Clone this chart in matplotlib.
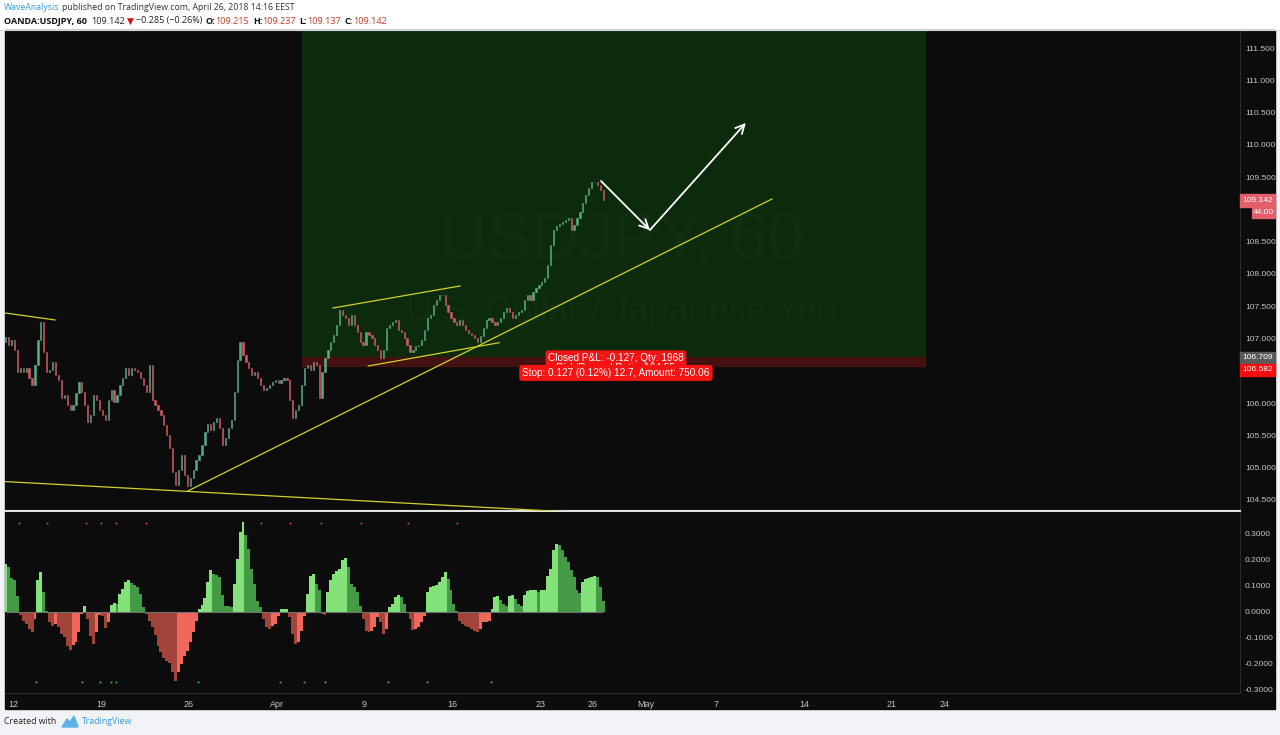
import numpy as np
import matplotlib.pyplot as plt
from matplotlib.patches import Rectangle, Polygon

plt.rcParams['font.family'] = ['Liberation Sans', 'DejaVu Sans']

W, H = 1280, 735

# USDJPY 4h closes, Fri 9 Mar noon -> Thu 26 Apr 14:00
first_open = 106.95
closes = [
    107.02, 106.90, 106.98,
    106.82, 106.48, 106.54, 106.48, 106.54, 106.39,
    106.28, 106.59, 106.98, 107.26, 106.79, 106.48,
    106.51, 106.64, 106.44, 106.36, 106.08, 106.13,
    105.97, 105.89, 105.97, 106.16, 106.33, 106.17,
    105.97, 105.71, 105.82, 106.13, 106.05, 105.89,
    105.82, 105.74, 106.05, 106.20, 106.02, 106.13,
    106.28, 106.39, 106.54, 106.44, 106.54, 106.51,
    106.48, 106.39, 106.28, 106.17, 106.59, 106.05,
    105.97, 105.89, 105.82, 105.66, 105.51, 105.31,
    104.93, 104.73, 104.96, 105.20, 104.89, 104.72,
    104.84, 104.96, 105.12, 105.20, 105.35, 105.55,
    105.68, 105.58, 105.71, 105.77, 105.62, 105.35,
    105.46, 105.62, 105.74, 106.17, 106.67, 106.95,
    106.75, 106.64, 106.54, 106.44, 106.48, 106.39,
    106.28, 106.20, 106.23, 106.28, 106.33, 106.36,
    106.31, 106.36, 106.39, 106.36, 106.05, 105.77,
    105.89, 105.97, 106.28, 106.54, 106.59, 106.51,
    106.64, 106.59, 106.08, 106.48, 106.70, 106.82,
    106.95, 107.06, 107.21, 107.44, 107.37, 107.32,
    107.21, 107.37, 107.21, 107.10, 106.95, 106.90,
    107.10, 107.06, 107.01, 106.90, 106.82, 106.70,
    106.82, 107.16, 107.21, 107.26, 107.29, 107.13,
    107.10, 107.01, 106.90, 106.79, 106.82, 106.89,
    106.90, 106.98, 107.13, 107.32, 107.37, 107.52,
    107.60, 107.68, 107.68, 107.52, 107.41, 107.32,
    107.26, 107.21, 107.29, 107.21, 107.13, 107.09,
    107.06, 107.01, 106.95, 107.04, 107.16, 107.29,
    107.32, 107.26, 107.21, 107.26, 107.32, 107.41,
    107.47, 107.41, 107.32, 107.37, 107.41, 107.44,
    107.60, 107.68, 107.60, 107.72, 107.78, 107.83,
    107.88, 107.94, 108.14, 108.45, 108.68, 108.74,
    108.77, 108.81, 108.84, 108.87, 108.68, 108.76,
    108.87, 108.96, 109.10, 109.22, 109.33, 109.43,
    109.43, 109.38, 109.30, 109.142,
]

# oscillator histogram, same 4h bars
osc_hist = [
    0.183, 0.170, 0.128, 0.119, 0.060, -0.013, -0.035, -0.047, -0.067, -0.077,
    -0.028, 0.119, 0.151, 0.074, 0.004, -0.041, -0.054, -0.047, -0.060, -0.086,
    -0.099, -0.131, -0.146, -0.128, -0.118, -0.079, -0.009, 0.021, -0.028, -0.092,
    -0.124, -0.079, -0.013, -0.015, -0.064, -0.041, 0.026, 0.033, 0.029, 0.068,
    0.087, 0.115, 0.119, 0.110, 0.103, 0.094, 0.068, 0.017, -0.009, -0.035,
    -0.060, -0.090, -0.131, -0.156, -0.176, -0.188, -0.195, -0.233, -0.265, -0.233,
    -0.201, -0.169, -0.150, -0.118, -0.079, -0.035, 0.010, 0.026, 0.051, 0.113,
    0.158, 0.145, 0.141, 0.132, 0.062, 0.023, 0.021, 0.017, 0.106, 0.203,
    0.305, 0.344, 0.292, 0.241, 0.164, 0.106, 0.042, 0.017, -0.028, -0.060,
    -0.067, -0.054, -0.047, -0.015, 0.008, 0.010, 0.010, -0.022, -0.086, -0.124,
    -0.118, -0.073, -0.015, 0.068, 0.138, 0.145, 0.106, 0.081, -0.009, -0.013,
    0.074, 0.119, 0.145, 0.154, 0.164, 0.196, 0.205, 0.171, 0.106, 0.094,
    0.074, 0.023, -0.028, -0.073, -0.079, -0.073, -0.060, -0.022, -0.041, -0.086,
    -0.067, 0.017, 0.029, 0.055, 0.064, 0.055, 0.029, -0.003, -0.028, -0.069,
    -0.067, -0.060, -0.041, -0.015, 0.074, 0.094, 0.097, 0.100, 0.115, 0.132,
    0.151, 0.126, 0.081, 0.029, 0.004, -0.035, -0.047, -0.056, -0.060, -0.067,
    -0.073, -0.079, -0.067, -0.041, -0.038, -0.035, 0.010, 0.055, 0.059, 0.046,
    0.029, 0.023, 0.059, 0.062, 0.049, 0.029, 0.021, 0.062, 0.077, 0.081,
    0.081, 0.083, 0.074, 0.081, 0.081, 0.138, 0.164, 0.235, 0.260, 0.254,
    0.235, 0.209, 0.190, 0.158, 0.132, 0.081, 0.072, 0.113, 0.123, 0.128,
    0.132, 0.138, 0.132, 0.094, 0.042,
]

# cross signals (trading-day positions, 0 = Mon 12 Mar)
sig_down = [0.34, 1.93, 4.15, 5.01, 5.86, 7.57, 14.11, 15.76, 17.52, 19.80, 22.47, 25.26]
sig_up = [1.31, 3.92, 4.95, 5.57, 5.86, 10.52, 15.19, 16.55, 17.75, 21.33, 23.55, 27.19]

tick_days = [0, 5, 10, 15, 20, 25, 30, 33, 36, 40, 45, 50, 53]
tick_names = ['12', '19', '26', 'Apr', '9', '16', '23', '26', 'May', '7', '14', '21', '24']

# price scale labels (109.000 and 106.500 sit under the tags, so they are not shown)
price_ticks = [104.5, 105.0, 105.5, 106.0, 107.0, 107.5, 108.0, 108.5,
               109.5, 110.0, 110.5, 111.0, 111.5]
osc_ticks = [-0.3, -0.2, -0.1, 0.0, 0.1, 0.2, 0.3]

# drawings: (day, price) pairs
trend_lines = [
    ((-0.455, 107.396), (2.389, 107.288)),
    ((-0.455, 104.785), (31.6, 104.315)),
    ((9.95, 104.639), (43.17, 109.161)),
    ((18.2, 107.473), (25.43, 107.814)),
    ((20.21, 106.575), (27.66, 106.936)),
]
arrows = [((33.45, 109.44), (36.23, 108.68)), ((36.23, 108.68), (41.69, 110.34))]
entry, stop = 106.709, 106.582
pos_start, pos_end = 16.44, 51.88

BG = '#0c0c0c'
UP, DN = '#5aa88a', '#d25a64'
TXT = '#c4c4c4'


def box(x0, y0, x1, y1):
    return [x0 / W, 1 - y1 / H, (x1 - x0) / W, (y1 - y0) / H]


fig = plt.figure(figsize=(W / 100, H / 100), dpi=100, facecolor='#f1f3f6')
fig.patches.append(Rectangle((0, 1 - 30 / H), 1, 30 / H, transform=fig.transFigure,
                             color='white', zorder=-2))
fig.patches.append(Rectangle((5 / W, 1 - 709 / H), 1270 / W, 679 / H, transform=fig.transFigure,
                             color=BG, zorder=-1))

ax = fig.add_axes(box(5, 30, 1240, 511), facecolor=BG)
ax2 = fig.add_axes(box(5, 512, 1240, 693), facecolor=BG)

xb = -0.5 + (np.arange(len(closes)) + 0.5) / 6

# ---- price panel
c = np.array(closes)
o = np.r_[first_open, c[:-1]]
cc = np.where(c >= o, UP, DN)
ax.bar(xb, c - o, bottom=o, width=0.07, color=cc, edgecolor=cc, linewidth=0.4, zorder=3)

ax.add_patch(Rectangle((pos_start, entry), pos_end - pos_start, 6, color='#0b2b0c', zorder=1))
ax.add_patch(Rectangle((pos_start, stop), pos_end - pos_start, entry - stop, color='#441111', zorder=1))

ax.text(34.64, 108.48, 'USDJPY, 60', fontsize=48, color='white', alpha=0.022,
        ha='center', va='center', zorder=1.5)
ax.text(34.64, 107.41, 'U.S. Dollar / Japanese Yen', fontsize=26, color='white', alpha=0.022,
        ha='center', va='center', zorder=1.5)

for (d0, p0), (d1, p1) in trend_lines:
    ax.plot([d0, d1], [p0, p1], color='#d2d22c', lw=0.9, zorder=4)
for (d0, p0), (d1, p1) in arrows:
    ax.annotate('', xy=(d1, p1), xytext=(d0, p0),
                arrowprops=dict(arrowstyle='->', color='white', lw=1.3, mutation_scale=16,
                                shrinkA=0, shrinkB=0), zorder=5)

lbl = dict(fontsize=7.2, color='white', ha='center', va='center', zorder=6)
ax.text(34.3, 106.62, 'Closed P&L: -0.127, Qty: 1968\nRisk/Reward Ratio: 104.55',
        linespacing=1.05, bbox=dict(boxstyle='round,pad=0.25', fc='#f41414', ec='none'), **lbl)
ax.text(34.3, 106.467, 'Stop: 0.127 (0.12%) 12.7, Amount: 750.06',
        bbox=dict(boxstyle='round,pad=0.3', fc='#f41414', ec='none'), **lbl)

ax.set_xlim(-0.455, 69.8)
ax.set_ylim(104.329, 111.779)
ax.set_xticks([])
ax.set_yticks(price_ticks, [f'{v:.3f}' for v in price_ticks])
ax.yaxis.tick_right()
ax.tick_params(axis='y', length=0, pad=3.5, labelsize=6, labelcolor=TXT)
for s in ['top', 'left']:
    ax.spines[s].set_visible(False)
ax.spines['right'].set_color('#2c2c2c')
ax.spines['bottom'].set_color('#e2e2e2')
ax.spines['bottom'].set_linewidth(1.5)

# last price / countdown / position tags on the scale
yt = ax.get_yaxis_transform()
scale_tags = [
    (1.0, 109.239, 109.038, '#e35d6a', '109.142', 1.0142),
    (1.0097, 109.038, 108.867, '#e35d6a', '44:00', 1.0186),
    (1.0, 106.792, 106.606, '#5a5a5a', '106.709', 1.0142),
    (1.0, 106.606, 106.420, '#f30f0f', '106.582', 1.0142),
]
for x0, ytop, ybot, col, s, xc in scale_tags:
    ax.add_patch(Rectangle((x0, ybot), 1.0283 - x0, ytop - ybot, transform=yt, color=col,
                           clip_on=False, zorder=6))
    ax.text(xc, (ytop + ybot) / 2, s, transform=yt, fontsize=6, color='white',
            ha='center', va='center', zorder=7, clip_on=False)

# ---- oscillator panel
hv = np.array(osc_hist)
prev = np.r_[hv[0], hv[:-1]]
rise = hv >= prev
hc = np.where(hv >= 0, np.where(rise, '#83e27a', '#459a45'),
              np.where(rise, '#f0685c', '#a3443b'))
ax2.bar(xb, hv, width=1 / 6, color=hc, linewidth=0, zorder=2)
ax2.hlines(0, xb[0], xb[-1], color='#707070', lw=0.8, zorder=3)
ax2.plot(sig_down, np.full(len(sig_down), 0.338), ls='none', marker='s', ms=1.2,
         color='#e05050', mew=0)
ax2.plot(sig_up, np.full(len(sig_up), -0.269), ls='none', marker='s', ms=1.2,
         color='#50c050', mew=0)

ax2.set_xlim(-0.455, 69.8)
ax2.set_ylim(-0.3115, 0.381)
ax2.set_yticks(osc_ticks, [f'{v:.4f}' for v in osc_ticks])
ax2.yaxis.tick_right()
ax2.tick_params(axis='y', length=0, pad=3.5, labelsize=6, labelcolor=TXT)
ax2.set_xticks(tick_days, tick_names)
ax2.tick_params(axis='x', length=0, pad=5, labelsize=6.5, labelcolor=TXT)
for s in ['top', 'left']:
    ax2.spines[s].set_visible(False)
ax2.spines['right'].set_color('#2c2c2c')
ax2.spines['bottom'].set_color('#2a2a2a')

# ---- header and footer
fig.add_artist(plt.Line2D([0, 1], [1 - 30 / H] * 2, color='#d8d8d8', lw=0.8))
rend = fig.canvas.get_renderer()


def write_runs(runs, x_px, y_px, size):
    x = x_px
    for s, col, bold, gap in runs:
        t = fig.text(x / W, 1 - y_px / H, s, color=col, fontsize=size,
                     fontweight='bold' if bold else 'normal', ha='left', va='center',
                     family=['Open Sans', 'DejaVu Sans'])
        x += t.get_window_extent(renderer=rend).width + gap


hdr_red = '#c0392b'
write_runs([('WaveAnalysis', '#3a9ad9', False, 3),
            ('published on TradingView.com, April 26, 2018 14:16 EEST', '#333333', False, 0)],
           4, 8, 6.3)
write_runs([('OANDA:USDJPY, 60', '#111111', True, 4.5),
            ('109.142', '#222222', False, 2),
            ('\u25bc', '#d01010', False, 2),
            ('\u22120.285 (\u22120.26%)', '#222222', False, 3),
            ('O:', '#111111', True, 0.5), ('109.215', hdr_red, False, 3.5),
            ('H:', '#111111', True, 0.5), ('109.237', hdr_red, False, 3.5),
            ('L:', '#111111', True, 0.5), ('109.137', hdr_red, False, 3.5),
            ('C:', '#111111', True, 0.5), ('109.142', hdr_red, False, 0)],
           4, 21, 6.5)

fig.text(4 / W, 1 - 722 / H, 'Created with', fontsize=6.3, color='#222222', va='center',
         family=['Open Sans', 'DejaVu Sans'])
logo_px = [(62, 727), (67, 719), (70, 722), (74, 716), (78, 727)]
fig.patches.append(Polygon([(px, H - py) for px, py in logo_px], closed=True,
                           transform=None, color='#5bb2e6'))
fig.text(82 / W, 1 - 722 / H, 'TradingView', fontsize=6.3, color='#3a9ad9', va='center',
         family=['Open Sans', 'DejaVu Sans'])

fig.savefig('out.png', dpi=100, facecolor=fig.get_facecolor())
